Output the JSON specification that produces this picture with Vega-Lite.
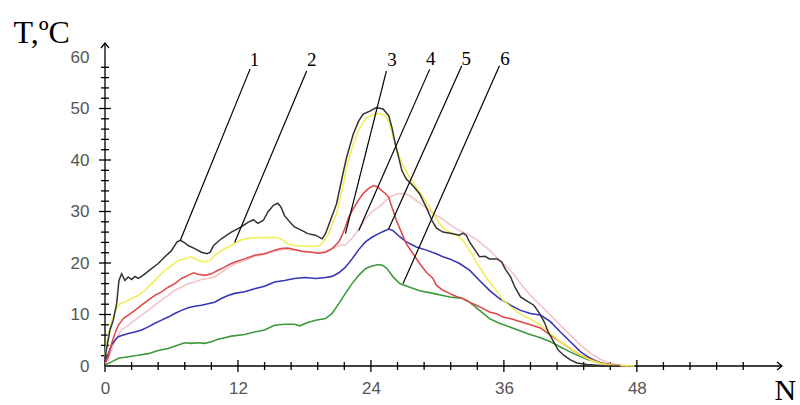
{
  "$schema": "https://vega.github.io/schema/vega-lite/v6.json",
  "width": 677,
  "height": 323,
  "autosize": {"type": "none"},
  "padding": {"left": 105, "top": 43, "right": 18, "bottom": 39},
  "background": "white",
  "config": {
    "view": {"stroke": null},
    "axis": {"grid": false, "domain": false, "ticks": false, "tickSize": 0, "labelFont": "Liberation Sans", "labelFontSize": 17, "labelColor": "#555", "labelFlush": false}
  },
  "resolve": {"axis": {"x": "independent", "y": "independent"}},
  "layer": [
    {
      "data": {"values": [{"x": 0, "y": 0, "x2": 61.1, "y2": 0}, {"x": 0, "y": 0, "x2": 0, "y2": 62.72}]},
      "mark": {"type": "rule", "color": "#000", "strokeWidth": 1.3},
      "encoding": {
        "x": {"field": "x", "type": "quantitative", "scale": {"domain": [0, 61.1], "nice": false, "zero": false}, "axis": null},
        "y": {"field": "y", "type": "quantitative", "scale": {"domain": [0, 62.72], "nice": false, "zero": false}, "axis": null},
        "x2": {"field": "x2"},
        "y2": {"field": "y2"}
      }
    },
    {
      "data": {"values": [
        {"n": 0, "k": "major"}, {"n": 2.4, "k": "minor"}, {"n": 4.8, "k": "minor"}, {"n": 7.2, "k": "minor"}, {"n": 9.6, "k": "minor"},
        {"n": 12, "k": "major"}, {"n": 14.4, "k": "minor"}, {"n": 16.8, "k": "minor"}, {"n": 19.2, "k": "minor"}, {"n": 21.6, "k": "minor"},
        {"n": 24, "k": "major"}, {"n": 26.4, "k": "minor"}, {"n": 28.8, "k": "minor"}, {"n": 31.2, "k": "minor"}, {"n": 33.6, "k": "minor"},
        {"n": 36, "k": "major"}, {"n": 38.4, "k": "minor"}, {"n": 40.8, "k": "minor"}, {"n": 43.2, "k": "minor"}, {"n": 45.6, "k": "minor"},
        {"n": 48, "k": "major"}, {"n": 50.4, "k": "minor"}, {"n": 52.8, "k": "minor"}, {"n": 55.2, "k": "minor"}, {"n": 57.6, "k": "minor"}
      ]},
      "mark": {"type": "tick", "orient": "vertical", "color": "#000", "thickness": 1.3, "opacity": 1},
      "encoding": {
        "x": {"field": "n", "type": "quantitative", "axis": null},
        "y": {"datum": 0, "type": "quantitative", "axis": null},
        "size": {"field": "k", "type": "nominal", "legend": null, "scale": {"domain": ["major", "minor"], "range": [12, 8]}}
      }
    },
    {
      "data": {"values": [
        {"t": 2, "k": "minor"}, {"t": 4, "k": "minor"}, {"t": 6, "k": "minor"}, {"t": 8, "k": "minor"}, {"t": 10, "k": "major"},
        {"t": 12, "k": "minor"}, {"t": 14, "k": "minor"}, {"t": 16, "k": "minor"}, {"t": 18, "k": "minor"}, {"t": 20, "k": "major"},
        {"t": 22, "k": "minor"}, {"t": 24, "k": "minor"}, {"t": 26, "k": "minor"}, {"t": 28, "k": "minor"}, {"t": 30, "k": "major"},
        {"t": 32, "k": "minor"}, {"t": 34, "k": "minor"}, {"t": 36, "k": "minor"}, {"t": 38, "k": "minor"}, {"t": 40, "k": "major"},
        {"t": 42, "k": "minor"}, {"t": 44, "k": "minor"}, {"t": 46, "k": "minor"}, {"t": 48, "k": "minor"}, {"t": 50, "k": "major"},
        {"t": 52, "k": "minor"}, {"t": 54, "k": "minor"}, {"t": 56, "k": "minor"}, {"t": 58, "k": "minor"}
      ]},
      "mark": {"type": "tick", "orient": "horizontal", "color": "#000", "thickness": 1.3, "opacity": 1},
      "encoding": {
        "y": {"field": "t", "type": "quantitative", "axis": null},
        "x": {"datum": 0, "type": "quantitative", "axis": null},
        "size": {"field": "k", "type": "nominal", "legend": null, "scale": {"domain": ["major", "minor"], "range": [12, 8]}}
      }
    },
    {
      "data": {"values": [{"x": 61.1, "y": 0}]},
      "mark": {"type": "point", "shape": "M-1,-0.8L0,0L-1,0.8", "filled": false, "color": "#000", "opacity": 1, "strokeWidth": 1.3, "size": 100},
      "encoding": {
        "x": {"field": "x", "type": "quantitative", "axis": null},
        "y": {"field": "y", "type": "quantitative", "axis": null}
      }
    },
    {
      "data": {"values": [{"x": 0, "y": 62.72}]},
      "mark": {"type": "point", "shape": "M-0.8,1L0,0L0.8,1", "filled": false, "color": "#000", "opacity": 1, "strokeWidth": 1.3, "size": 100},
      "encoding": {
        "x": {"field": "x", "type": "quantitative", "axis": null},
        "y": {"field": "y", "type": "quantitative", "axis": null}
      }
    },
    {
      "data": {"values": [
        {"s":"4","n":0,"t":0.5},{"s":"4","n":0.3,"t":1.2},{"s":"4","n":0.9,"t":5},{"s":"4","n":1.5,"t":7},{"s":"4","n":2.1,"t":7.9},{"s":"4","n":2.7,"t":8.9},{"s":"4","n":3.3,"t":9.9},{"s":"4","n":3.9,"t":10.8},{"s":"4","n":4.5,"t":11.8},{"s":"4","n":5.1,"t":12.8},{"s":"4","n":5.7,"t":13.7},{"s":"4","n":6.3,"t":14.7},{"s":"4","n":6.9,"t":15.3},{"s":"4","n":7.5,"t":16},{"s":"4","n":8.1,"t":16.3},{"s":"4","n":8.7,"t":16.8},{"s":"4","n":9.3,"t":17},{"s":"4","n":9.9,"t":17.3},{"s":"4","n":10.5,"t":18.2},{"s":"4","n":11.1,"t":19},{"s":"4","n":11.7,"t":19.8},{"s":"4","n":12.6,"t":20.5},{"s":"4","n":13.5,"t":21.3},{"s":"4","n":14.4,"t":21.7},{"s":"4","n":15.3,"t":22.3},{"s":"4","n":16.2,"t":22.7},{"s":"4","n":17.1,"t":22.5},{"s":"4","n":18,"t":22.2},{"s":"4","n":19,"t":22},{"s":"4","n":19.9,"t":22.2},{"s":"4","n":20.5,"t":22.8},{"s":"4","n":21.1,"t":23.4},{"s":"4","n":21.7,"t":23.5},{"s":"4","n":22.3,"t":24.8},{"s":"4","n":22.9,"t":26.5},{"s":"4","n":23.5,"t":28.5},{"s":"4","n":24.1,"t":30},{"s":"4","n":24.8,"t":31},{"s":"4","n":25.3,"t":32},{"s":"4","n":25.7,"t":32.8},{"s":"4","n":26.3,"t":33.4},{"s":"4","n":26.9,"t":33.5},{"s":"4","n":27.5,"t":33.1},{"s":"4","n":28.1,"t":32.1},{"s":"4","n":28.7,"t":31.2},{"s":"4","n":29.3,"t":30.2},{"s":"4","n":29.9,"t":29.2},{"s":"4","n":30.5,"t":28.5},{"s":"4","n":31.1,"t":27.5},{"s":"4","n":32,"t":26.3},{"s":"4","n":32.9,"t":25.4},{"s":"4","n":33.8,"t":24.1},{"s":"4","n":34.7,"t":22.5},{"s":"4","n":35.6,"t":20.5},{"s":"4","n":36.6,"t":18.6},{"s":"4","n":37.5,"t":16},{"s":"4","n":38.4,"t":13.7},{"s":"4","n":39.3,"t":11.8},{"s":"4","n":40.2,"t":9.9},{"s":"4","n":41.1,"t":7.9},{"s":"4","n":42,"t":6},{"s":"4","n":42.9,"t":4.1},{"s":"4","n":43.8,"t":2.5},{"s":"4","n":44.7,"t":1.3},{"s":"4","n":45.6,"t":0.5},{"s":"4","n":46.5,"t":0.2},{"s":"4","n":47.2,"t":0},

        {"s":"6","n":0,"t":0.2},{"s":"6","n":0.6,"t":0.8},{"s":"6","n":1.2,"t":1.5},{"s":"6","n":2.1,"t":1.8},{"s":"6","n":3,"t":2.1},{"s":"6","n":3.9,"t":2.4},{"s":"6","n":4.8,"t":3},{"s":"6","n":5.7,"t":3.4},{"s":"6","n":6.6,"t":4.1},{"s":"6","n":7.2,"t":4.5},{"s":"6","n":7.8,"t":4.4},{"s":"6","n":8.4,"t":4.5},{"s":"6","n":9,"t":4.4},{"s":"6","n":9.6,"t":4.7},{"s":"6","n":10.2,"t":5.2},{"s":"6","n":10.8,"t":5.5},{"s":"6","n":11.4,"t":5.8},{"s":"6","n":12.6,"t":6.1},{"s":"6","n":13.5,"t":6.6},{"s":"6","n":14.4,"t":7},{"s":"6","n":15.3,"t":7.9},{"s":"6","n":16.2,"t":8.1},{"s":"6","n":17.1,"t":8.1},{"s":"6","n":17.6,"t":7.8},{"s":"6","n":18.1,"t":8.3},{"s":"6","n":19,"t":8.9},{"s":"6","n":19.9,"t":9.2},{"s":"6","n":20.5,"t":10.2},{"s":"6","n":21.1,"t":12.1},{"s":"6","n":21.7,"t":14.1},{"s":"6","n":22.3,"t":16},{"s":"6","n":22.9,"t":17.6},{"s":"6","n":23.5,"t":18.9},{"s":"6","n":24.1,"t":19.4},{"s":"6","n":24.7,"t":19.7},{"s":"6","n":25.1,"t":19.5},{"s":"6","n":25.5,"t":18.8},{"s":"6","n":26,"t":17.3},{"s":"6","n":26.6,"t":16},{"s":"6","n":27.5,"t":15.3},{"s":"6","n":28.4,"t":14.6},{"s":"6","n":29.6,"t":14.1},{"s":"6","n":31.1,"t":13.4},{"s":"6","n":32.3,"t":13.1},{"s":"6","n":32.9,"t":12.4},{"s":"6","n":33.8,"t":10.8},{"s":"6","n":34.7,"t":9.2},{"s":"6","n":35.6,"t":8.3},{"s":"6","n":36.9,"t":7.3},{"s":"6","n":38.1,"t":6.3},{"s":"6","n":39.3,"t":5.5},{"s":"6","n":40.2,"t":4.7},{"s":"6","n":41.1,"t":3.7},{"s":"6","n":42.3,"t":2.4},{"s":"6","n":43.5,"t":1.3},{"s":"6","n":44.7,"t":0.6},{"s":"6","n":45.9,"t":0.2},{"s":"6","n":46.5,"t":0},

        {"s":"5","n":0,"t":0.8},{"s":"5","n":0.3,"t":2.4},{"s":"5","n":0.6,"t":4.1},{"s":"5","n":0.9,"t":5},{"s":"5","n":1.2,"t":5.7},{"s":"5","n":1.65,"t":6},{"s":"5","n":2.1,"t":6.3},{"s":"5","n":2.7,"t":6.6},{"s":"5","n":3.3,"t":7},{"s":"5","n":3.9,"t":7.6},{"s":"5","n":4.5,"t":8.3},{"s":"5","n":5.1,"t":8.9},{"s":"5","n":5.7,"t":9.5},{"s":"5","n":6.3,"t":10.2},{"s":"5","n":6.9,"t":10.8},{"s":"5","n":7.5,"t":11.3},{"s":"5","n":8.1,"t":11.6},{"s":"5","n":8.7,"t":11.8},{"s":"5","n":9.3,"t":12.1},{"s":"5","n":9.9,"t":12.4},{"s":"5","n":10.5,"t":13.1},{"s":"5","n":11.1,"t":13.7},{"s":"5","n":11.7,"t":14.1},{"s":"5","n":12.6,"t":14.4},{"s":"5","n":13.5,"t":15},{"s":"5","n":14.4,"t":15.5},{"s":"5","n":15.3,"t":16.3},{"s":"5","n":16.2,"t":16.6},{"s":"5","n":17.1,"t":17},{"s":"5","n":18.1,"t":17.2},{"s":"5","n":19,"t":17},{"s":"5","n":19.9,"t":17.2},{"s":"5","n":20.5,"t":17.4},{"s":"5","n":21.1,"t":18.1},{"s":"5","n":21.7,"t":19.2},{"s":"5","n":22.3,"t":20.8},{"s":"5","n":22.9,"t":22.6},{"s":"5","n":23.5,"t":24.1},{"s":"5","n":24.1,"t":25},{"s":"5","n":24.7,"t":25.7},{"s":"5","n":25.3,"t":26.3},{"s":"5","n":25.6,"t":26.6},{"s":"5","n":26,"t":26.3},{"s":"5","n":26.6,"t":25.1},{"s":"5","n":27.2,"t":24.1},{"s":"5","n":28.1,"t":23.1},{"s":"5","n":29,"t":22.5},{"s":"5","n":29.9,"t":21.8},{"s":"5","n":30.5,"t":21.2},{"s":"5","n":31.1,"t":20.8},{"s":"5","n":32,"t":19.9},{"s":"5","n":32.9,"t":18.6},{"s":"5","n":33.8,"t":16.6},{"s":"5","n":34.7,"t":14.7},{"s":"5","n":35.6,"t":13.1},{"s":"5","n":36.6,"t":11.8},{"s":"5","n":37.5,"t":10.8},{"s":"5","n":38.4,"t":10.2},{"s":"5","n":39.3,"t":9.9},{"s":"5","n":40.2,"t":8.6},{"s":"5","n":41.1,"t":6.6},{"s":"5","n":42,"t":4.7},{"s":"5","n":42.9,"t":2.8},{"s":"5","n":43.8,"t":1.5},{"s":"5","n":44.7,"t":0.6},{"s":"5","n":45.6,"t":0.2},{"s":"5","n":46.5,"t":0},

        {"s":"3","n":0,"t":0.5},{"s":"3","n":0.3,"t":1.8},{"s":"3","n":0.6,"t":4.4},{"s":"3","n":0.9,"t":6.3},{"s":"3","n":1.2,"t":7.9},{"s":"3","n":1.65,"t":9.2},{"s":"3","n":2.1,"t":9.9},{"s":"3","n":2.7,"t":10.8},{"s":"3","n":3.3,"t":11.8},{"s":"3","n":3.9,"t":12.8},{"s":"3","n":4.5,"t":13.7},{"s":"3","n":5.1,"t":14.4},{"s":"3","n":5.7,"t":15.3},{"s":"3","n":6.3,"t":16},{"s":"3","n":6.9,"t":17},{"s":"3","n":7.5,"t":17.6},{"s":"3","n":8,"t":18.1},{"s":"3","n":8.4,"t":17.8},{"s":"3","n":9,"t":17.6},{"s":"3","n":9.6,"t":17.9},{"s":"3","n":10.2,"t":18.6},{"s":"3","n":10.8,"t":19.2},{"s":"3","n":11.4,"t":19.9},{"s":"3","n":12,"t":20.4},{"s":"3","n":12.6,"t":20.8},{"s":"3","n":13.5,"t":21.5},{"s":"3","n":14.4,"t":21.8},{"s":"3","n":15.3,"t":22.5},{"s":"3","n":15.9,"t":22.8},{"s":"3","n":16.5,"t":22.9},{"s":"3","n":17.1,"t":22.6},{"s":"3","n":17.8,"t":22.3},{"s":"3","n":18.7,"t":22.1},{"s":"3","n":19.3,"t":21.9},{"s":"3","n":19.9,"t":22.1},{"s":"3","n":20.5,"t":22.8},{"s":"3","n":21.1,"t":24.1},{"s":"3","n":21.4,"t":25.4},{"s":"3","n":21.7,"t":27},{"s":"3","n":22,"t":28.9},{"s":"3","n":22.4,"t":30.5},{"s":"3","n":22.9,"t":32.3},{"s":"3","n":23.3,"t":33.5},{"s":"3","n":23.8,"t":34.5},{"s":"3","n":24.2,"t":35},{"s":"3","n":24.6,"t":34.8},{"s":"3","n":25,"t":34},{"s":"3","n":25.3,"t":33.5},{"s":"3","n":25.6,"t":32.8},{"s":"3","n":25.9,"t":30.8},{"s":"3","n":26.3,"t":28.3},{"s":"3","n":26.8,"t":25.7},{"s":"3","n":27.2,"t":23.7},{"s":"3","n":27.8,"t":21.8},{"s":"3","n":28.4,"t":19.9},{"s":"3","n":29,"t":18.2},{"s":"3","n":29.6,"t":17},{"s":"3","n":29.9,"t":15.7},{"s":"3","n":30.5,"t":14.7},{"s":"3","n":31.1,"t":14.1},{"s":"3","n":31.7,"t":13.5},{"s":"3","n":32.3,"t":13.1},{"s":"3","n":32.9,"t":12.4},{"s":"3","n":33.5,"t":11.8},{"s":"3","n":34.1,"t":11.2},{"s":"3","n":34.7,"t":10.5},{"s":"3","n":35.4,"t":10.1},{"s":"3","n":35.9,"t":9.5},{"s":"3","n":36.6,"t":9.2},{"s":"3","n":37.2,"t":8.8},{"s":"3","n":37.8,"t":8.4},{"s":"3","n":38.4,"t":8},{"s":"3","n":39.3,"t":7.4},{"s":"3","n":40.2,"t":6},{"s":"3","n":41.1,"t":4.7},{"s":"3","n":42,"t":3.4},{"s":"3","n":42.9,"t":2.1},{"s":"3","n":43.8,"t":1.3},{"s":"3","n":44.7,"t":0.6},{"s":"3","n":45.6,"t":0.3},{"s":"3","n":46.5,"t":0.1},{"s":"3","n":47,"t":0},

        {"s":"2","n":0,"t":1.8},{"s":"2","n":0.15,"t":4.4},{"s":"2","n":0.45,"t":7.6},{"s":"2","n":0.75,"t":9.5},{"s":"2","n":1.05,"t":11.3},{"s":"2","n":1.35,"t":12.1},{"s":"2","n":1.8,"t":12.4},{"s":"2","n":2.4,"t":13.1},{"s":"2","n":3,"t":13.7},{"s":"2","n":3.6,"t":14.7},{"s":"2","n":4.2,"t":16},{"s":"2","n":4.8,"t":17.3},{"s":"2","n":5.4,"t":18.6},{"s":"2","n":6,"t":19.5},{"s":"2","n":6.6,"t":20.5},{"s":"2","n":7.2,"t":20.8},{"s":"2","n":7.8,"t":21.2},{"s":"2","n":8.4,"t":20.5},{"s":"2","n":9,"t":20.2},{"s":"2","n":9.5,"t":20.5},{"s":"2","n":9.9,"t":21.5},{"s":"2","n":10.5,"t":22.4},{"s":"2","n":11.1,"t":23.1},{"s":"2","n":11.7,"t":23.8},{"s":"2","n":12.3,"t":24.5},{"s":"2","n":13.2,"t":24.9},{"s":"2","n":14.1,"t":24.9},{"s":"2","n":15,"t":25},{"s":"2","n":15.6,"t":24.9},{"s":"2","n":16.1,"t":24.4},{"s":"2","n":16.5,"t":23.7},{"s":"2","n":17.1,"t":23.4},{"s":"2","n":17.8,"t":23.3},{"s":"2","n":18.7,"t":23.2},{"s":"2","n":19.3,"t":23.3},{"s":"2","n":19.7,"t":24.1},{"s":"2","n":20.2,"t":25.7},{"s":"2","n":20.5,"t":27.6},{"s":"2","n":20.9,"t":29.5},{"s":"2","n":21.4,"t":34.1},{"s":"2","n":21.8,"t":38.6},{"s":"2","n":22.4,"t":43.1},{"s":"2","n":23,"t":46.3},{"s":"2","n":23.6,"t":48.2},{"s":"2","n":24.2,"t":48.8},{"s":"2","n":24.8,"t":49},{"s":"2","n":25.3,"t":48.6},{"s":"2","n":25.7,"t":47},{"s":"2","n":26,"t":44.4},{"s":"2","n":26.3,"t":42.4},{"s":"2","n":26.6,"t":40.5},{"s":"2","n":26.9,"t":38.9},{"s":"2","n":27.5,"t":36.6},{"s":"2","n":28.1,"t":34.7},{"s":"2","n":28.7,"t":32.8},{"s":"2","n":29.3,"t":30.8},{"s":"2","n":29.9,"t":28.6},{"s":"2","n":30.5,"t":26.8},{"s":"2","n":31.1,"t":26},{"s":"2","n":31.7,"t":25.4},{"s":"2","n":32.3,"t":24.4},{"s":"2","n":32.9,"t":22.5},{"s":"2","n":33.5,"t":20.2},{"s":"2","n":34.1,"t":18.2},{"s":"2","n":34.7,"t":16.3},{"s":"2","n":35.4,"t":14.4},{"s":"2","n":35.9,"t":12.8},{"s":"2","n":36.6,"t":11.5},{"s":"2","n":37.2,"t":10.5},{"s":"2","n":37.8,"t":9.7},{"s":"2","n":38.4,"t":9.1},{"s":"2","n":39.3,"t":8},{"s":"2","n":40.2,"t":6.3},{"s":"2","n":41.1,"t":4.7},{"s":"2","n":42,"t":3.4},{"s":"2","n":42.9,"t":2.1},{"s":"2","n":43.8,"t":1.2},{"s":"2","n":44.7,"t":0.5},{"s":"2","n":45.6,"t":0.2},{"s":"2","n":47.8,"t":0},

        {"s":"1","n":0,"t":1.5},{"s":"1","n":0.2,"t":4},{"s":"1","n":0.45,"t":7},{"s":"1","n":0.75,"t":8.9},{"s":"1","n":1.05,"t":12.1},{"s":"1","n":1.26,"t":16.6},{"s":"1","n":1.5,"t":17.9},{"s":"1","n":1.8,"t":16.6},{"s":"1","n":2.1,"t":17.3},{"s":"1","n":2.4,"t":16.8},{"s":"1","n":2.7,"t":17.4},{"s":"1","n":3,"t":17},{"s":"1","n":3.3,"t":17.4},{"s":"1","n":3.6,"t":17.9},{"s":"1","n":4.2,"t":18.9},{"s":"1","n":4.8,"t":19.9},{"s":"1","n":5.4,"t":21.2},{"s":"1","n":6,"t":22.4},{"s":"1","n":6.5,"t":24.1},{"s":"1","n":6.8,"t":24.4},{"s":"1","n":7.2,"t":23.9},{"s":"1","n":7.5,"t":23.4},{"s":"1","n":8.1,"t":22.8},{"s":"1","n":8.7,"t":22.1},{"s":"1","n":9.2,"t":21.8},{"s":"1","n":9.5,"t":22.1},{"s":"1","n":9.8,"t":23.4},{"s":"1","n":10.5,"t":24.7},{"s":"1","n":11.4,"t":26},{"s":"1","n":12.3,"t":27},{"s":"1","n":12.9,"t":27.9},{"s":"1","n":13.4,"t":28.4},{"s":"1","n":13.8,"t":27.7},{"s":"1","n":14.3,"t":28.3},{"s":"1","n":14.7,"t":29.9},{"s":"1","n":15.2,"t":31.2},{"s":"1","n":15.6,"t":31.6},{"s":"1","n":15.9,"t":30.8},{"s":"1","n":16.2,"t":29.2},{"s":"1","n":16.7,"t":27.9},{"s":"1","n":17.1,"t":27},{"s":"1","n":17.8,"t":26.3},{"s":"1","n":18.3,"t":25.7},{"s":"1","n":19,"t":25.4},{"s":"1","n":19.6,"t":24.7},{"s":"1","n":19.9,"t":25.7},{"s":"1","n":20.3,"t":28},{"s":"1","n":20.9,"t":31.5},{"s":"1","n":21.4,"t":36.6},{"s":"1","n":21.8,"t":40.5},{"s":"1","n":22.4,"t":45},{"s":"1","n":22.9,"t":47.6},{"s":"1","n":23.3,"t":48.9},{"s":"1","n":23.9,"t":49.5},{"s":"1","n":24.5,"t":50.2},{"s":"1","n":25.1,"t":49.9},{"s":"1","n":25.6,"t":48.6},{"s":"1","n":25.9,"t":46.3},{"s":"1","n":26.2,"t":43.1},{"s":"1","n":26.5,"t":40.5},{"s":"1","n":26.8,"t":37.9},{"s":"1","n":27.2,"t":36.3},{"s":"1","n":27.8,"t":35},{"s":"1","n":28.4,"t":33.4},{"s":"1","n":29,"t":30.8},{"s":"1","n":29.5,"t":28.3},{"s":"1","n":29.9,"t":26.8},{"s":"1","n":30.5,"t":26},{"s":"1","n":31.4,"t":25.7},{"s":"1","n":32,"t":25.4},{"s":"1","n":32.3,"t":25.8},{"s":"1","n":32.6,"t":25.4},{"s":"1","n":32.9,"t":24.1},{"s":"1","n":33.4,"t":22.5},{"s":"1","n":33.8,"t":21.2},{"s":"1","n":34.3,"t":21.3},{"s":"1","n":34.7,"t":20.8},{"s":"1","n":35.4,"t":20.8},{"s":"1","n":35.8,"t":20.2},{"s":"1","n":36.1,"t":18.9},{"s":"1","n":36.6,"t":17.3},{"s":"1","n":37,"t":15.3},{"s":"1","n":37.5,"t":13.4},{"s":"1","n":38.1,"t":12.6},{"s":"1","n":38.7,"t":11.8},{"s":"1","n":39.1,"t":10.6},{"s":"1","n":39.4,"t":9.5},{"s":"1","n":39.7,"t":8.3},{"s":"1","n":40,"t":6.6},{"s":"1","n":40.5,"t":4.7},{"s":"1","n":40.9,"t":3.1},{"s":"1","n":41.4,"t":2.1},{"s":"1","n":42,"t":1.2},{"s":"1","n":42.6,"t":0.6},{"s":"1","n":43.5,"t":0.3},{"s":"1","n":45.3,"t":0},{"s":"1","n":46.5,"t":0}
      ]},
      "mark": {"type": "line", "interpolate": "linear"},
      "encoding": {
        "x": {"field": "n", "type": "quantitative", "scale": {"domain": [0, 61.1], "nice": false, "zero": false},
          "axis": {"orient": "bottom", "labelPadding": 14, "values": [0, 12, 24, 36, 48],
            "title": "N", "titleX": 669, "titleY": 33, "titleAlign": "left", "titleBaseline": "alphabetic", "titleFont": "Liberation Serif", "titleFontSize": 30, "titleFontWeight": "normal", "titleColor": "#000"}},
        "y": {"field": "t", "type": "quantitative", "scale": {"domain": [0, 62.72], "nice": false, "zero": false},
          "axis": {"orient": "left", "labelPadding": 16, "values": [0, 10, 20, 30, 40, 50, 60],
            "title": "T,ºC", "titleAngle": 0, "titleX": -92, "titleY": -1, "titleAlign": "left", "titleBaseline": "alphabetic", "titleFont": "Liberation Serif", "titleFontSize": 32, "titleFontWeight": "normal", "titleColor": "#000"}},
        "color": {"field": "s", "type": "nominal", "legend": null, "sort": ["4", "6", "5", "3", "2", "1"],
          "scale": {"domain": ["4", "6", "5", "3", "2", "1"], "range": ["#f2c4c6", "#3c9a3c", "#3535b5", "#e04848", "#f0ee50", "#333333"]}},
        "strokeWidth": {"field": "s", "type": "nominal", "legend": null,
          "scale": {"domain": ["4", "6", "5", "3", "2", "1"], "range": [1.6, 1.5, 1.5, 1.5, 2.6, 1.2]}},
        "order": {"field": "n", "type": "quantitative"}
      }
    },
    {
      "data": {"values": [
        {"lab": "1", "n": 13.1, "t": 57.7, "n2": 6.8, "t2": 24.4, "ln": 13.5, "lt": 59.4},
        {"lab": "2", "n": 18.2, "t": 57.3, "n2": 11.7, "t2": 24.0, "ln": 18.65, "lt": 59.4},
        {"lab": "3", "n": 25.4, "t": 57.3, "n2": 21.7, "t2": 25.7, "ln": 25.9, "lt": 59.4},
        {"lab": "4", "n": 29.3, "t": 57.6, "n2": 22.9, "t2": 26.3, "ln": 29.4, "lt": 59.6},
        {"lab": "5", "n": 32.2, "t": 58.3, "n2": 25.6, "t2": 26.6, "ln": 32.6, "lt": 59.6},
        {"lab": "6", "n": 35.6, "t": 58.3, "n2": 26.9, "t2": 16.0, "ln": 36.1, "lt": 59.6}
      ]},
      "layer": [
        {
          "mark": {"type": "rule", "color": "#000", "strokeWidth": 1.2},
          "encoding": {
            "x": {"field": "n", "type": "quantitative", "axis": null},
            "y": {"field": "t", "type": "quantitative", "axis": null},
            "x2": {"field": "n2"},
            "y2": {"field": "t2"}
          }
        },
        {
          "mark": {"type": "text", "font": "Liberation Serif", "fontSize": 19, "color": "#000", "align": "center", "baseline": "middle"},
          "encoding": {
            "x": {"field": "ln", "type": "quantitative", "axis": null},
            "y": {"field": "lt", "type": "quantitative", "axis": null},
            "text": {"field": "lab"}
          }
        }
      ]
    }
  ]
}
